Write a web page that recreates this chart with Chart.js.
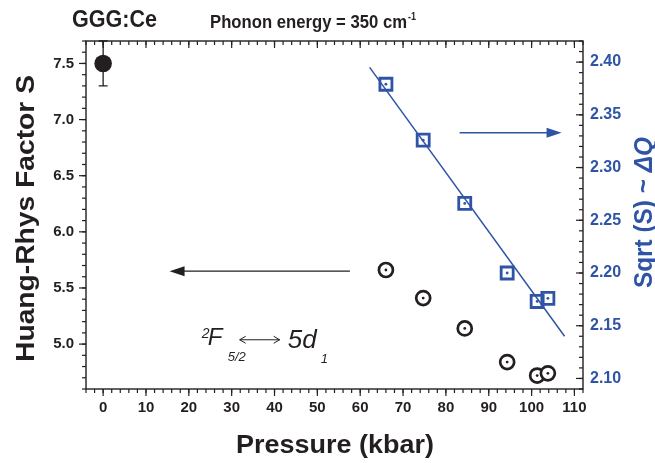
<!DOCTYPE html>
<html>
<head>
<meta charset="utf-8">
<script src="https://cdn.jsdelivr.net/npm/chart.js@4.4.1/dist/chart.umd.min.js"></script>
<style>
  html, body { margin: 0; padding: 0; background: #fff; }
</style>
</head>
<body>
<canvas id="chartS" width="655" height="463"></canvas>
<script>
// pressões (kbar) dos pontos medidos
const pressao = [66.0, 74.7, 84.4, 94.3, 101.3, 103.8];
const fatorS = [5.66, 5.41, 5.14, 4.84, 4.72, 4.74];      // eixo esquerdo
const raizS = [2.379, 2.326, 2.266, 2.200, 2.173, 2.176]; // eixo direito

// ponto a pressão ambiente, com barra de erro
const pressaoZero = [0];
const fatorSZero = [7.5];
const erroSZero = [0.2];

// ajuste linear de sqrt(S)
const ajusteX = [62.2, 107.7];
const ajusteY = [2.395, 2.140];

// ticks
const xTicks = [0, 10, 20, 30, 40, 50, 60, 70, 80, 90, 100, 110];
const yTicks = [5.0, 5.5, 6.0, 6.5, 7.0, 7.5];
const y2Ticks = [2.10, 2.15, 2.20, 2.25, 2.30, 2.35, 2.40];

// setas indicando o eixo de cada série
const setaS = { x: [57.6, 15.5], y: 5.65 };
const setaRaiz = { x: [83.2, 107.0], y: 2.333 };

const PRETO = '#231f20';
const AZUL = '#2f54a6';
const FONTE = '"Liberation Sans", Arial, Helvetica, sans-serif';

const pontos = (xs, ys) => xs.map((x, i) => ({ x: x, y: ys[i] }));

// desenha trechos de texto em sequência (com rotação e compressão opcional)
function textoRuns(ctx, runs, x, y, opts) {
    ctx.save();
    ctx.translate(x, y);
    if (opts.rot) ctx.rotate(opts.rot);
    ctx.textBaseline = 'alphabetic';
    ctx.textAlign = 'left';
    let total = 0;
    runs.forEach(r => { ctx.font = r.font; total += ctx.measureText(r.t).width; });
    const sx = opts.largura ? opts.largura / total : 1;
    ctx.scale(sx, 1);
    let cx = opts.align === 'center' ? -total / 2 : 0;
    runs.forEach(r => {
        ctx.font = r.font;
        ctx.fillStyle = r.cor || opts.cor;
        ctx.fillText(r.t, cx, r.dy || 0);
        cx += ctx.measureText(r.t).width;
    });
    ctx.restore();
}

function seta(ctx, x1, y, x2, cor) {
    const dir = Math.sign(x2 - x1);
    ctx.save();
    ctx.strokeStyle = cor;
    ctx.fillStyle = cor;
    ctx.lineWidth = 1.3;
    ctx.beginPath();
    ctx.moveTo(x1, y);
    ctx.lineTo(x2 - dir * 12, y);
    ctx.stroke();
    ctx.beginPath();
    ctx.moveTo(x2, y);
    ctx.lineTo(x2 - dir * 15, y - 5);
    ctx.lineTo(x2 - dir * 15, y + 5);
    ctx.closePath();
    ctx.fill();
    ctx.restore();
}

function tracos(ctx, scale, valores, lado, comp, area) {
    valores.forEach(v => {
        const p = scale.getPixelForValue(v);
        ctx.beginPath();
        if (lado === 'bottom') { ctx.moveTo(p, area.bottom); ctx.lineTo(p, area.bottom + comp); }
        if (lado === 'top') { ctx.moveTo(p, area.top); ctx.lineTo(p, area.top + comp); }
        if (lado === 'left') { ctx.moveTo(area.left, p); ctx.lineTo(area.left - comp, p); }
        if (lado === 'right') { ctx.moveTo(area.right, p); ctx.lineTo(area.right - comp, p); }
        ctx.stroke();
    });
}

function menores(scale, passo) {
    const out = [];
    const n0 = Math.ceil(scale.min / passo - 1e-6);
    const n1 = Math.floor(scale.max / passo + 1e-6);
    for (let n = n0; n <= n1; n++) out.push(n * passo);
    return out;
}

const desenhos = {
    id: 'desenhos',
    beforeDatasetsDraw(chart) {
        // barra de erro do ponto a 0 kbar
        const { ctx, scales } = chart;
        ctx.save();
        ctx.strokeStyle = PRETO;
        ctx.lineWidth = 1.3;
        pressaoZero.forEach((x, i) => {
            const px = scales.x.getPixelForValue(x);
            const y1 = scales.y.getPixelForValue(fatorSZero[i] - erroSZero[i]);
            const y2 = scales.y.getPixelForValue(fatorSZero[i] + erroSZero[i]);
            ctx.beginPath();
            ctx.moveTo(px, y1); ctx.lineTo(px, y2);
            ctx.moveTo(px - 4.5, y1); ctx.lineTo(px + 4.5, y1);
            ctx.moveTo(px - 4.5, y2); ctx.lineTo(px + 4.5, y2);
            ctx.stroke();
        });
        ctx.restore();
    },
    afterDraw(chart) {
        const { ctx, chartArea: a, scales } = chart;
        ctx.save();

        // moldura e ticks
        ctx.strokeStyle = PRETO;
        ctx.lineWidth = 1.4;
        ctx.strokeRect(a.left, a.top, a.right - a.left, a.bottom - a.top);
        ctx.lineWidth = 1.2;
        tracos(ctx, scales.x, xTicks, 'bottom', 7, a);
        tracos(ctx, scales.x, menores(scales.x, 2), 'bottom', 4, a);
        tracos(ctx, scales.x, xTicks, 'top', 7, a);
        tracos(ctx, scales.x, menores(scales.x, 2), 'top', 4, a);
        tracos(ctx, scales.y, yTicks, 'left', 7, a);
        tracos(ctx, scales.y, menores(scales.y, 0.1), 'left', 4, a);
        tracos(ctx, scales.y2, y2Ticks, 'right', 7, a);
        tracos(ctx, scales.y2, menores(scales.y2, 0.01), 'right', 4, a);

        // setas
        seta(ctx, scales.x.getPixelForValue(setaS.x[0]), scales.y.getPixelForValue(setaS.y),
            scales.x.getPixelForValue(setaS.x[1]), PRETO);
        seta(ctx, scales.x.getPixelForValue(setaRaiz.x[0]), scales.y2.getPixelForValue(setaRaiz.y),
            scales.x.getPixelForValue(setaRaiz.x[1]), AZUL);

        // títulos
        textoRuns(ctx, [{ t: 'GGG:Ce', font: 'bold 24px ' + FONTE }], 72, 27, { cor: PRETO, largura: 85 });
        textoRuns(ctx, [{ t: 'Phonon energy = 350 cm', font: 'bold 19px ' + FONTE }], 210, 28.3, { cor: PRETO, largura: 197 });
        textoRuns(ctx, [{ t: '-1', font: 'bold 10px ' + FONTE }], 408, 20, { cor: PRETO, largura: 8 });
        textoRuns(ctx, [{ t: 'Pressure (kbar)', font: 'bold 25px ' + FONTE }], 335, 452.5,
            { cor: PRETO, align: 'center', largura: 198 });
        textoRuns(ctx, [{ t: 'Huang-Rhys Factor S', font: 'bold 26px ' + FONTE }], 33.5, 218.5,
            { cor: PRETO, align: 'center', rot: -Math.PI / 2, largura: 287 });
        textoRuns(ctx, [
            { t: 'Sqrt (S) ~ ', font: 'bold 25px ' + FONTE },
            { t: 'ΔQ', font: 'italic bold 25px ' + FONTE }
        ], 652, 212.5, { cor: AZUL, align: 'center', rot: -Math.PI / 2, largura: 151 });

        // anotação da transição
        const ax = scales.x.getPixelForValue(24.4);
        const ay = scales.y.getPixelForValue(4.994);
        ctx.fillStyle = PRETO;
        ctx.textBaseline = 'alphabetic';
        ctx.font = 'italic 14px ' + FONTE;
        ctx.fillText('2', ax - 6, ay - 7);
        ctx.font = 'italic 24px ' + FONTE;
        ctx.fillText('F', ax, ay);
        ctx.font = 'italic 13px ' + FONTE;
        ctx.fillText('5/2', ax + 20, ay + 16);
        ctx.font = 'italic 26px ' + FONTE;
        ctx.fillText('5d', ax + 80, ay + 3);
        ctx.font = 'italic 13px ' + FONTE;
        ctx.fillText('1', ax + 113, ay + 18);
        ctx.strokeStyle = PRETO;
        ctx.lineWidth = 1;
        ctx.beginPath();
        ctx.moveTo(ax + 32, ay - 5); ctx.lineTo(ax + 72, ay - 5);
        ctx.moveTo(ax + 38, ay - 8.5); ctx.lineTo(ax + 32, ay - 5); ctx.lineTo(ax + 38, ay - 1.5);
        ctx.moveTo(ax + 66, ay - 8.5); ctx.lineTo(ax + 72, ay - 5); ctx.lineTo(ax + 66, ay - 1.5);
        ctx.stroke();

        ctx.restore();
    }
};

const ctx = document.getElementById('chartS');

// grade e traços do Chart.js desligados: a moldura é desenhada no plugin
const semGrade = { display: false, drawTicks: false, tickLength: 0 };

new Chart(ctx, {
    type: 'scatter',
    data: {
        datasets: [
            {
                label: 'centro S',
                data: pontos(pressao, fatorS),
                yAxisID: 'y',
                pointRadius: 1.4,
                pointBorderWidth: 0,
                backgroundColor: PRETO
            },
            {
                label: 'S',
                data: pontos(pressao, fatorS),
                yAxisID: 'y',
                pointRadius: 7,
                pointBorderWidth: 2.7,
                borderColor: PRETO,
                backgroundColor: '#ffffff'
            },
            {
                label: 'S (0 kbar)',
                data: pontos(pressaoZero, fatorSZero),
                yAxisID: 'y',
                pointRadius: 8.8,
                pointBorderWidth: 0,
                backgroundColor: PRETO
            },
            {
                label: 'centro sqrt',
                data: pontos(pressao, raizS),
                yAxisID: 'y2',
                pointRadius: 1.4,
                pointBorderWidth: 0,
                backgroundColor: AZUL
            },
            {
                label: 'sqrt(S)',
                data: pontos(pressao, raizS),
                yAxisID: 'y2',
                pointStyle: 'rect',
                pointRadius: 8.5,
                pointBorderWidth: 2.8,
                borderColor: AZUL,
                backgroundColor: 'rgba(255,255,255,0)'
            },
            {
                label: 'ajuste',
                type: 'line',
                data: pontos(ajusteX, ajusteY),
                yAxisID: 'y2',
                borderColor: AZUL,
                borderWidth: 1.5,
                pointRadius: 0,
                fill: false
            }
        ]
    },
    options: {
        responsive: false,
        animation: false,
        devicePixelRatio: 1,
        layout: { padding: { top: 41, left: 0, right: 0, bottom: 0 } },
        plugins: {
            legend: { display: false },
            title: { display: false },
            tooltip: { enabled: false }
        },
        scales: {
            x: {
                type: 'linear',
                min: -4,
                max: 112,
                afterBuildTicks: s => { s.ticks = xTicks.map(v => ({ value: v })); },
                afterFit: s => { s.height = 74; },
                grid: semGrade,
                border: { display: false },
                ticks: {
                    autoSkip: false,
                    maxRotation: 0,
                    padding: 10,
                    color: PRETO,
                    font: { family: FONTE, size: 15, weight: 'bold' },
                    callback: v => v
                }
            },
            y: {
                position: 'left',
                min: 4.6,
                max: 7.7,
                afterBuildTicks: s => { s.ticks = yTicks.map(v => ({ value: v })); },
                afterFit: s => { s.width = 86; },
                grid: semGrade,
                border: { display: false },
                ticks: {
                    padding: 12,
                    color: PRETO,
                    font: { family: FONTE, size: 15, weight: 'bold' },
                    callback: v => v.toFixed(1)
                }
            },
            y2: {
                position: 'right',
                min: 2.09,
                max: 2.42,
                afterBuildTicks: s => { s.ticks = y2Ticks.map(v => ({ value: v })); },
                afterFit: s => { s.width = 72; },
                grid: semGrade,
                border: { display: false },
                ticks: {
                    padding: 7,
                    color: AZUL,
                    font: { family: FONTE, size: 16, weight: 'bold' },
                    callback: v => v.toFixed(2)
                }
            }
        }
    },
    plugins: [desenhos]
});
</script>
</body>
</html>
